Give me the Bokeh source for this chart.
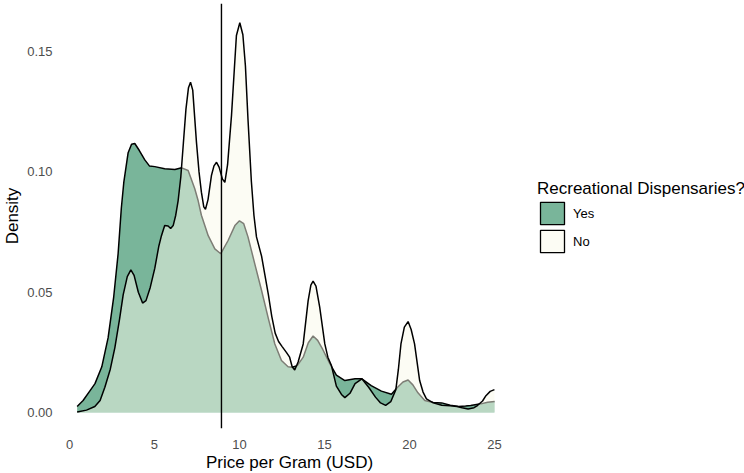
from bokeh.plotting import figure
from bokeh.models import Range1d, Span, Legend, LegendItem, NumeralTickFormatter
from bokeh.embed import file_html
from bokeh.resources import INLINE

# ---- data ----
yes_x = [0.45, 0.8, 1.2, 1.5, 1.9, 2.27, 2.6, 2.86, 3.05, 3.2, 3.45, 3.65, 3.84, 4.1, 4.43, 4.7,
         5.02, 5.6, 6.2, 6.6, 6.98, 7.37, 7.57, 7.76, 8.16, 8.55, 8.9, 9.33, 9.73, 10.0, 10.25,
         10.5, 10.9, 11.3, 11.7, 12.08, 12.47, 12.86, 13.1, 13.4, 13.75, 14.05, 14.33, 14.6,
         14.9, 15.3, 15.7, 16.2, 16.8, 17.2, 17.75, 18.35, 18.94, 19.3, 19.62, 19.92, 20.2,
         20.5, 20.9, 21.4, 21.9, 22.4, 22.9, 23.3, 23.6, 24.2, 24.6, 25.0]
yes_d = [0.0025, 0.005, 0.009, 0.012, 0.019, 0.031, 0.048, 0.066, 0.085, 0.096, 0.108, 0.1115,
         0.1118, 0.109, 0.105, 0.1025, 0.1022, 0.1013, 0.101, 0.1017, 0.1006, 0.093, 0.088,
         0.082, 0.0735, 0.068, 0.066, 0.0715, 0.0777, 0.0797, 0.0785, 0.073, 0.0618, 0.0507,
         0.039, 0.0285, 0.0216, 0.019, 0.0188, 0.0195, 0.023, 0.029, 0.0318, 0.030, 0.0262,
         0.0205, 0.0155, 0.0133, 0.014, 0.014, 0.0112, 0.0089, 0.0076, 0.0105, 0.0127, 0.0135,
         0.0115, 0.0082, 0.005, 0.0042, 0.004, 0.003, 0.0025, 0.0027, 0.0029, 0.0036, 0.0043,
         0.0046]

no_x = [0.45, 1.0, 1.49, 1.8, 2.08, 2.4, 2.67, 2.95, 3.16, 3.4, 3.61, 3.8, 4.05, 4.3, 4.5, 4.75,
        5.02, 5.25, 5.41, 5.6, 5.8, 5.95, 6.1, 6.25, 6.39, 6.55, 6.7, 6.85, 7.0, 7.12, 7.25,
        7.47, 7.62, 7.76, 7.9, 8.0, 8.15, 8.35, 8.5, 8.65, 8.8, 9.0, 9.14, 9.3, 9.53, 9.7,
        9.82, 10.02, 10.2, 10.35, 10.5, 10.7, 10.85, 11.0, 11.3, 11.5, 11.7, 11.9, 12.1, 12.3,
        12.5, 12.76, 12.95, 13.1, 13.25, 13.45, 13.75, 14.04, 14.2, 14.33, 14.5, 14.72, 15.02,
        15.2, 15.41, 15.7, 16.0, 16.2, 16.5, 16.8, 17.2, 17.6, 18.0, 18.3, 18.6, 18.9, 19.2,
        19.35, 19.5, 19.7, 19.92, 20.1, 20.3, 20.6, 20.8, 21.0, 21.4, 21.9, 22.4, 22.8, 23.1,
        23.45, 23.8, 24.0, 24.3, 24.5, 24.75, 25.0]
no_d = [0.0002, 0.001, 0.0025, 0.005, 0.0105, 0.018, 0.027, 0.039, 0.049, 0.0565, 0.0593,
        0.057, 0.050, 0.0455, 0.0465, 0.052, 0.060, 0.069, 0.0735, 0.0777, 0.0775, 0.0765,
        0.0777, 0.082, 0.088, 0.098, 0.112, 0.126, 0.135, 0.1373, 0.134, 0.1123, 0.100,
        0.0916, 0.0855, 0.0845, 0.0885, 0.0985, 0.1025, 0.104, 0.102, 0.097, 0.0957, 0.103,
        0.1234, 0.143, 0.1567, 0.162, 0.157, 0.144, 0.122, 0.096, 0.082, 0.073, 0.065, 0.057,
        0.049, 0.040, 0.033, 0.0295, 0.0275, 0.025, 0.023, 0.019, 0.0177, 0.021, 0.0285,
        0.0465, 0.053, 0.0546, 0.0525, 0.0438, 0.0285, 0.023, 0.0195, 0.011, 0.0075, 0.0062,
        0.008, 0.012, 0.014, 0.0105, 0.0064, 0.004, 0.003, 0.0045, 0.0095, 0.018, 0.0285,
        0.0355, 0.0378, 0.0345, 0.0285, 0.0133, 0.0085, 0.0057, 0.004, 0.003, 0.0028, 0.0025,
        0.002, 0.0015, 0.002, 0.0029, 0.0048, 0.007, 0.0088, 0.0095]

mean_price = 8.94
group_labels = ["Yes", "No"]
x_ticks = [0, 5, 10, 15, 20, 25]
y_ticks = [0.0, 0.05, 0.10, 0.15]

YES_FILL = "#79b59a"
NO_FILL = "#fafaea"
FONT = "Liberation Sans"
NAN = float("nan")

p = figure(frame_width=450, frame_height=425, output_backend="svg", toolbar_location=None,
           x_range=Range1d(-0.294, 26.18), y_range=Range1d(-0.00664, 0.170),
           min_border_left=0, min_border_right=0, min_border_top=3, min_border_bottom=0,
           outline_line_color=None, background_fill_color="white", border_fill_color="white")
p.xgrid.visible = False
p.ygrid.visible = False

for ax in (p.xaxis[0], p.yaxis[0]):
    ax.axis_line_color = None
    ax.major_tick_line_color = None
    ax.minor_tick_line_color = None
    ax.major_label_text_color = "#4d4d4d"
    ax.major_label_text_font_size = "13px"
    ax.major_label_text_font = FONT
    ax.axis_label_text_font = FONT
    ax.axis_label_text_font_size = "17px"
    ax.axis_label_text_font_style = "normal"
    ax.axis_label_text_color = "black"
p.xaxis.major_label_standoff = 5
p.xaxis.axis_label_standoff = 1
p.yaxis.major_label_standoff = 6
p.yaxis.axis_label_standoff = 2

p.xaxis.ticker = x_ticks
p.yaxis.ticker = y_ticks
p.yaxis.formatter = NumeralTickFormatter(format="0.00")
p.xaxis.axis_label = "Price per Gram (USD)"
p.yaxis.axis_label = "Density"

p.varea(x=yes_x, y1=0, y2=yes_d, fill_color=YES_FILL, fill_alpha=1.0)
p.line(yes_x, yes_d, line_color="black", line_width=1.5)
p.varea(x=no_x, y1=0, y2=no_d, fill_color=NO_FILL, fill_alpha=0.5)
p.line(no_x, no_d, line_color="black", line_width=1.5)

p.add_layout(Span(location=mean_price, dimension="height", line_color="black", line_width=1.4))

# legend-only keys (not drawn in the plot: NaN position)
leg_yes = p.rect(x=[NAN], y=[NAN], width=1, height=1, fill_color=YES_FILL,
                 line_color="black", line_width=1.3)
leg_no = p.rect(x=[NAN], y=[NAN], width=1, height=1, fill_color=NO_FILL, fill_alpha=0.5,
                line_color="black", line_width=1.3)

legend = Legend(items=[LegendItem(label=group_labels[0], renderers=[leg_yes]),
                       LegendItem(label=group_labels[1], renderers=[leg_no])],
                title="Recreational Dispensaries?", location=(23, 173))
legend.title_text_font = FONT
legend.title_text_font_size = "17px"
legend.title_text_font_style = "normal"
legend.title_text_color = "black"
legend.title_standoff = 0
legend.label_text_font = FONT
legend.label_text_font_size = "13px"
legend.label_text_color = "black"
legend.glyph_width = 30
legend.glyph_height = 28
legend.spacing = 0
legend.label_standoff = 6
legend.padding = 2
legend.margin = 0
legend.border_line_color = None
legend.background_fill_alpha = 0
p.add_layout(legend, "right")

open("out.html", "w").write(file_html(p, INLINE))
